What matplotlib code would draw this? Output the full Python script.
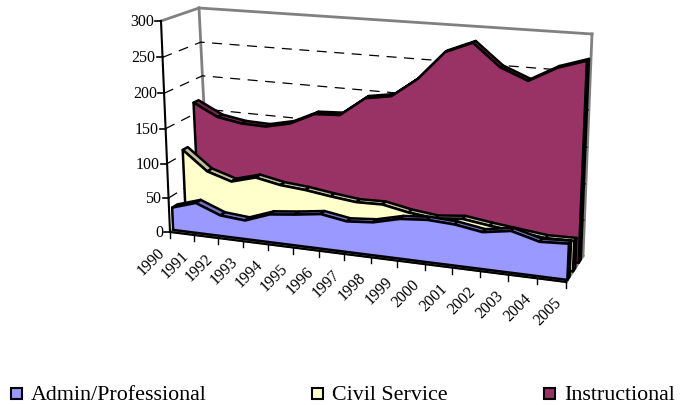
import numpy as np
import matplotlib
matplotlib.use('Agg')
import matplotlib.pyplot as plt
from matplotlib.patches import Polygon, Rectangle

plt.rcParams['font.family'] = ['Liberation Serif', 'DejaVu Serif']

# data
years = [1990, 1991, 1992, 1993, 1994, 1995, 1996, 1997, 1998, 1999, 2000, 2001, 2002, 2003, 2004, 2005]
admin = [33, 44, 30, 27, 40, 44, 49, 43, 46, 55, 58, 56, 50, 56, 46, 48]
civil = [107, 79, 68, 78, 71, 68, 63, 59, 60, 53, 49, 53, 48, 44, 40, 41]
instructional = [167, 149, 143, 142, 150, 167, 169, 196, 202, 229, 268, 283, 253, 238, 258, 270]
y_ticks = [0, 50, 100, 150, 200, 250, 300]
names = ['Admin/Professional', 'Civil Service', 'Instructional']

# box corners in pixels, [t][v] for front and back
front = np.array([[[170, 233], [161, 22]], [[566, 283], [576, 48]]], dtype=float)
back = np.array([[[209, 207], [199, 9]], [[583, 257], [592, 35]]], dtype=float)


def warp(u, k):
    return k * u / (1 + (k - 1) * u)


def proj(year, val, d):
    # perspective-ish mapping of (category index, value, depth) to pixels
    s = warp(np.asarray(year, dtype=float) / (len(years) - 1), 0.90)
    v = warp(np.asarray(val, dtype=float) / 300.0, 0.96)
    s, v = np.broadcast_arrays(s, v)
    out = np.zeros(s.shape + (2,))
    for c in range(2):
        f = (front[0, 0, c] * (1 - v) + front[0, 1, c] * v) * (1 - s) + (front[1, 0, c] * (1 - v) + front[1, 1, c] * v) * s
        b = (back[0, 0, c] * (1 - v) + back[0, 1, c] * v) * (1 - s) + (back[1, 0, c] * (1 - v) + back[1, 1, c] * v) * s
        out[..., c] = f * (1 - d) + b * d
    return out


fig = plt.figure(figsize=(6.8, 4.06), dpi=100)
ax = fig.add_axes([0, 0, 1, 1])
ax.set_xlim(0, 680)
ax.set_ylim(406, 0)
ax.axis('off')

n = len(years)
idx = np.arange(n)
gray = '#808080'

# walls
for a, b in [((0, 300, 0), (0, 300, 1)), ((0, 300, 1), (n - 1, 300, 1)), ((n - 1, 300, 1), (n - 1, 0, 1)),
             ((0, 300, 1), (0, 0, 1)), ((n - 1, 0, 1), (n - 1, 0, 0))]:
    p = np.array([proj(*a), proj(*b)])
    ax.plot(p[:, 0], p[:, 1], color=gray, lw=2, solid_capstyle='projecting', zorder=1)

# gridlines on both walls
for tick in y_ticks[1:-1]:
    p = np.array([proj(0, tick, 0), proj(0, tick, 1), proj(n - 1, tick, 1)])
    ax.plot(p[:, 0], p[:, 1], color='black', lw=0.9, dashes=(8, 6), zorder=1)

# floor edge in gray under the front axis
p = np.array([proj(0, 0, 0.03), proj(n - 1, 0, 0.03)])
ax.plot(p[:, 0], p[:, 1], color=gray, lw=2.5, zorder=2)

series = [(instructional, '#993366', '#732650', 0.74), (civil, '#FFFFCC', '#BFBF99', 0.41), (admin, '#9999FF', '#7373BF', 0.08)]
thick = 0.13
lw = 1.8
z = 3
for vals, col, dark, d in series:
    vals = np.array(vals, dtype=float)
    # right hand end
    q = [proj(n - 1, 0, d), proj(n - 1, vals[-1], d), proj(n - 1, vals[-1], d + thick), proj(n - 1, 0, d + thick)]
    ax.add_patch(Polygon(q, closed=True, facecolor=dark, edgecolor='black', lw=lw, joinstyle='round', zorder=z))
    # top strip, one piece per interval
    for i in range(n - 1):
        q = [proj(i, vals[i], d), proj(i + 1, vals[i + 1], d), proj(i + 1, vals[i + 1], d + thick), proj(i, vals[i], d + thick)]
        ax.add_patch(Polygon(q, closed=True, facecolor=dark, edgecolor='black', lw=lw, joinstyle='round', zorder=z))
    # front face
    topline = proj(idx, vals, d)
    q = np.vstack([proj(0, 0, d), topline, proj(n - 1, 0, d)])
    ax.add_patch(Polygon(q, closed=True, facecolor=col, edgecolor='black', lw=lw, joinstyle='round', zorder=z + 1))
    z += 2

# value axis
p = np.array([proj(0, 0, 0), proj(0, 300, 0)])
ax.plot(p[:, 0], p[:, 1], color='black', lw=1.5, zorder=20)
for tick in y_ticks:
    x0, y0 = proj(0, tick, 0)
    ax.plot([x0 - 6, x0], [y0, y0], color='black', lw=1.2, zorder=20)
    ax.text(x0 - 7, y0, str(tick), ha='right', va='center', fontsize=11.5, color='black')

# category axis
p = np.array([proj(0, 0, 0), proj(n - 1, 0, 0)])
ax.plot(p[:, 0], p[:, 1], color='black', lw=1.5, zorder=20)
for i, yr in enumerate(years):
    x0, y0 = proj(i, 0, 0)
    ax.plot([x0, x0], [y0, y0 + 6], color='black', lw=1.0, zorder=20)
    ax.text(x0 - 13, y0 + 12, str(yr), ha='right', va='top', rotation=45, rotation_mode='anchor', fontsize=11.5, color='black')

# legend
for x, col, name in zip([10, 311, 543], ['#9999FF', '#FFFFCC', '#993366'], names):
    ax.add_patch(Rectangle((x + 1, 389), 11, 11, facecolor=col, edgecolor='black', lw=1.5, zorder=20))
    ax.text(x + 21, 396, name, ha='left', va='center', fontsize=15.8, color='black')

fig.savefig('out.png', dpi=100)
